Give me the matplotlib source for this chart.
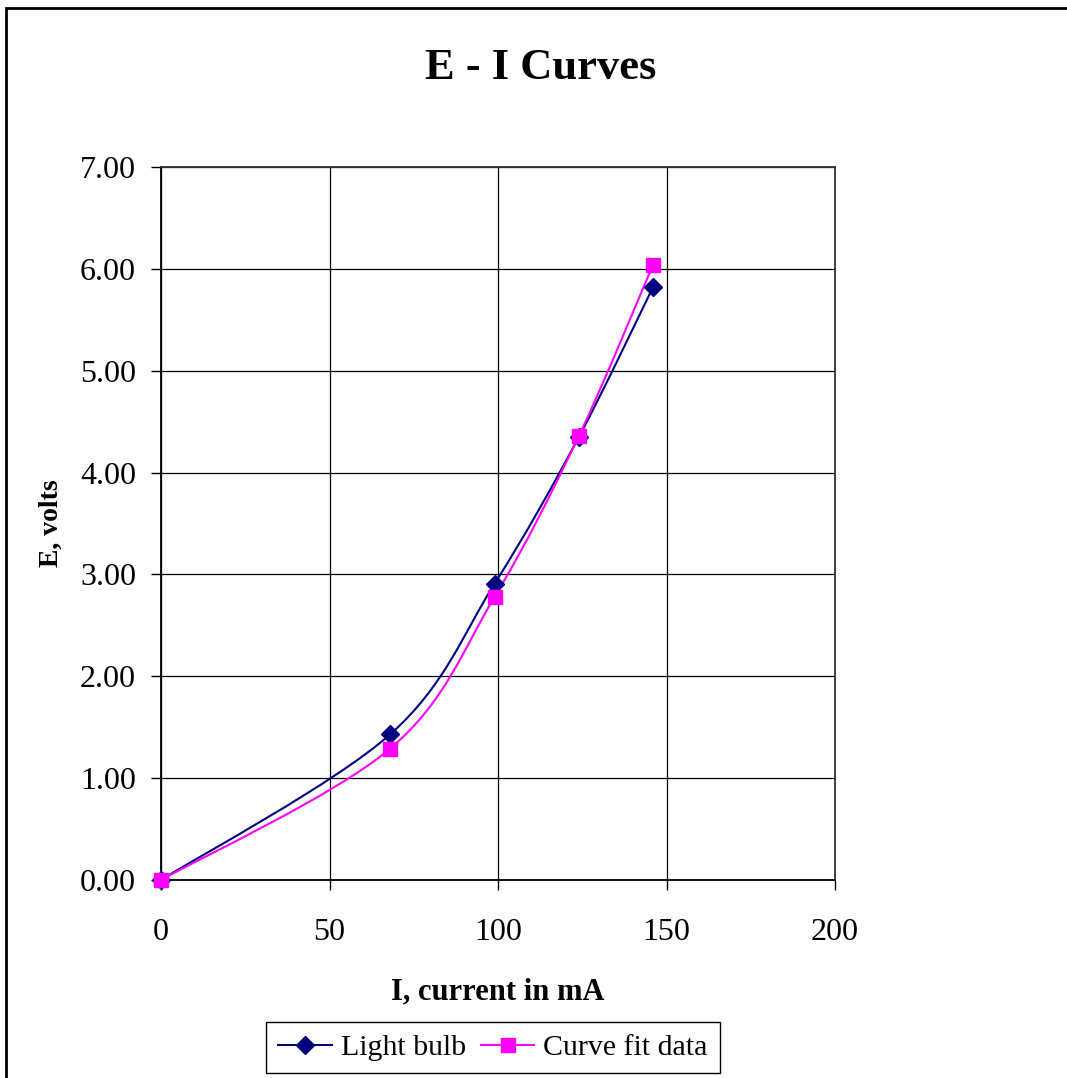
import matplotlib

matplotlib.use("Agg")
import matplotlib.pyplot as plt
from matplotlib.lines import Line2D
from matplotlib.patches import PathPatch, Rectangle
from matplotlib.path import Path

FIG_W, FIG_H = 1067, 1078

current_ma = [0, 68, 99, 124, 146]
bulb_volts = [0.00, 1.43, 2.91, 4.35, 5.82]
fit_volts = [0.00, 1.29, 2.78, 4.36, 6.04]

x_ticks = [0, 50, 100, 150, 200]
y_ticks = [0, 1, 2, 3, 4, 5, 6, 7]

SERIES = [
    ("Light bulb", bulb_volts, "#000080", "D", 9),
    ("Curve fit data", fit_volts, "#FF00FF", "s", 10),
]

plt.rcParams["font.family"] = ["Liberation Serif", "DejaVu Serif"]


def smooth_path(xs, ys):
    # Excel-style smoothed line: Catmull-Rom segments as cubic Beziers
    pts = list(zip(xs, ys))
    verts = [pts[0]]
    codes = [Path.MOVETO]
    for i in range(len(pts) - 1):
        p0 = pts[i - 1] if i > 0 else pts[i]
        p1 = pts[i]
        p2 = pts[i + 1]
        p3 = pts[i + 2] if i + 2 < len(pts) else pts[i + 1]
        c1 = (p1[0] + (p2[0] - p0[0]) / 6, p1[1] + (p2[1] - p0[1]) / 6)
        c2 = (p2[0] - (p3[0] - p1[0]) / 6, p2[1] - (p3[1] - p1[1]) / 6)
        verts += [c1, c2, p2]
        codes += [Path.CURVE4] * 3
    return Path(verts, codes)


fig = plt.figure(figsize=(FIG_W / 100, FIG_H / 100), dpi=100)
ax = fig.add_axes([161 / FIG_W, 1 - 880 / FIG_H, 674 / FIG_W, 713 / FIG_H])

handles = []
for label, volts, color, marker, size in SERIES:
    ax.add_patch(
        PathPatch(smooth_path(current_ma, volts), facecolor="none",
                  edgecolor=color, linewidth=1.5, zorder=3, clip_on=False)
    )
    ax.plot(current_ma, volts, linestyle="none", marker=marker, markersize=size,
            color=color, markeredgecolor=color, zorder=4, clip_on=False)
    handles.append(Line2D([], [], color=color, linewidth=1.5, marker=marker,
                          markersize=size, label=label))

ax.set_xlim(0, 200)
ax.set_ylim(0, 7)
ax.set_xticks(x_ticks)
ax.set_yticks(y_ticks)
ax.set_yticklabels([f"{v:.2f}" for v in y_ticks])
ax.tick_params(axis="both", direction="out", length=7, width=1, labelsize=23,
               colors="black")
ax.tick_params(axis="x", pad=20)
ax.tick_params(axis="y", pad=11)
ax.grid(True, color="black", linewidth=0.9)
ax.set_axisbelow(True)
for spine in ax.spines.values():
    spine.set_color("#333333")
    spine.set_linewidth(1.3)
ax.spines["left"].set_color("black")
ax.spines["bottom"].set_color("black")

ax.set_xlabel("I, current in mA", fontsize=22, fontweight="bold", labelpad=22)
ax.set_ylabel("E, volts", fontsize=20, fontweight="bold", labelpad=12)

fig.text(541 / FIG_W, 1 - 68 / FIG_H, "E - I Curves", fontsize=32,
         fontweight="bold", ha="center", va="center")

fig.legend(handles=handles, loc="lower left",
           bbox_to_anchor=(266 / FIG_W, 1 - 1073 / FIG_H), ncol=2,
           fontsize=21.5, frameon=True, fancybox=False, edgecolor="black",
           framealpha=1, numpoints=1, handlelength=1.8, handletextpad=0.3,
           columnspacing=0.5, borderpad=0.4, borderaxespad=0)

fig.patches.append(
    Rectangle((6 / FIG_W, -0.1), 1.2, 1.1 - 8 / FIG_H, transform=fig.transFigure,
              fill=False, edgecolor="black", linewidth=2)
)

fig.savefig("out.png", dpi=100)
